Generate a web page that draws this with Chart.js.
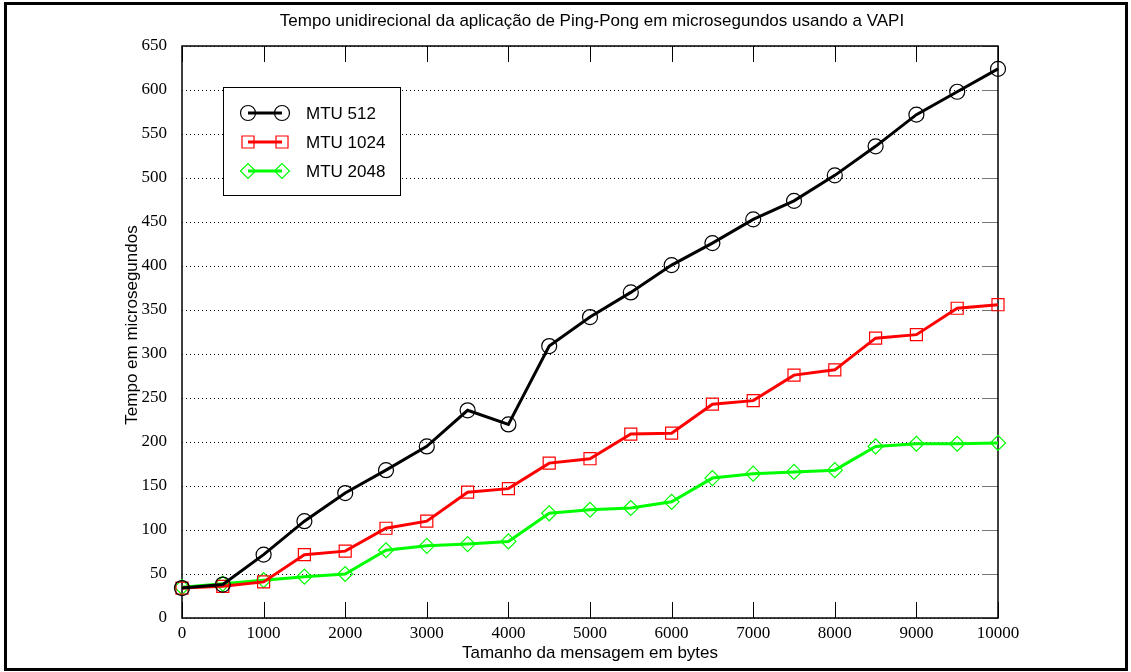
<!DOCTYPE html>
<html>
<head>
<meta charset="UTF-8">
<title>Tempo unidirecional Ping-Pong VAPI</title>
<script src="https://cdn.jsdelivr.net/npm/chart.js"></script>
<style>
    html, body { margin: 0; padding: 0; background: #fff; }
    #wrap { width: 1131px; height: 672px; }
</style>
</head>
<body>
<div id="wrap"><canvas id="chart" width="1131" height="672"></canvas></div>
<script>
    // message sizes (bytes)
    const tamanhos = [0, 500, 1000, 1500, 2000, 2500, 3000, 3500, 4000, 4500, 5000,
                      5500, 6000, 6500, 7000, 7500, 8000, 8500, 9000, 9500, 10000];

    // one-way time in microseconds
    const mtu512  = [34, 38, 72, 110, 142, 168, 195, 236, 220, 309, 342,
                     370, 401, 426, 453, 474, 503, 536, 572, 598, 624];
    const mtu1024 = [34, 36, 41, 72, 76, 102, 110, 143, 147, 176, 181,
                     209, 210, 243, 247, 276, 282, 318, 322, 352, 356];
    const mtu2048 = [35, 39, 43, 47, 50, 77, 82, 84, 87, 119, 123,
                     125, 132, 159, 164, 166, 168, 195, 198, 198, 199];

    const serieNomes = ['MTU 512', 'MTU 1024', 'MTU 2048'];
    const xTicks = [0, 1000, 2000, 3000, 4000, 5000, 6000, 7000, 8000, 9000, 10000];
    const yTicks = [0, 50, 100, 150, 200, 250, 300, 350, 400, 450, 500, 550, 600, 650];

    const titulo = 'Tempo unidirecional da aplicação de Ping-Pong em microsegundos usando a VAPI';
    const xTitulo = 'Tamanho da mensagem em bytes';
    const yTitulo = 'Tempo em microsegundos';

    const SANS = '"Liberation Sans", Arial, sans-serif';
    const SERIF = '"Liberation Serif", "Times New Roman", serif';

    function pontos(vals) {
        return tamanhos.map((x, i) => ({ x: x, y: vals[i] }));
    }

    function serie(nome, vals, cor, estilo, raio) {
        return {
            label: nome,
            data: pontos(vals),
            borderColor: cor,
            backgroundColor: 'rgba(0,0,0,0)',
            borderWidth: 3,
            tension: 0,
            pointStyle: estilo,
            pointRadius: raio,
            pointHoverRadius: raio,
            pointBorderColor: cor,
            pointBackgroundColor: 'rgba(0,0,0,0)',
            pointBorderWidth: 1.2,
            clip: false
        };
    }

    // frame, dotted grid, ticks, titles and the boxed legend, MATLAB style
    const molduraPlugin = {
        id: 'moldura',
        beforeDatasetsDraw(chart) {
            const ctx = chart.ctx;
            const a = chart.chartArea;
            const xs = chart.scales.x;
            const ys = chart.scales.y;
            ctx.save();
            // dotted horizontal grid
            ctx.strokeStyle = '#000';
            ctx.lineWidth = 1;
            ctx.setLineDash([1, 3]);
            yTicks.forEach(v => {
                const py = Math.round(ys.getPixelForValue(v)) + 0.5;
                ctx.beginPath();
                ctx.moveTo(a.left, py); ctx.lineTo(a.right, py);
                ctx.stroke();
            });
            ctx.setLineDash([]);
            // inward x ticks, top and bottom
            xTicks.forEach(v => {
                const px = Math.round(xs.getPixelForValue(v)) + 0.5;
                ctx.beginPath();
                ctx.moveTo(px, a.bottom); ctx.lineTo(px, a.bottom - 16);
                ctx.moveTo(px, a.top); ctx.lineTo(px, a.top + 16);
                ctx.stroke();
            });
            // short y ticks on the right side
            ctx.strokeStyle = '#777';
            yTicks.forEach(v => {
                const py = Math.round(ys.getPixelForValue(v)) + 0.5;
                ctx.beginPath();
                ctx.moveTo(a.right, py); ctx.lineTo(a.right - 16, py);
                ctx.stroke();
            });
            ctx.strokeStyle = '#000';
            ctx.lineWidth = 1.5;
            ctx.strokeRect(a.left, a.top, a.right - a.left, a.bottom - a.top);
            ctx.restore();
        },
        afterDraw(chart) {
            const ctx = chart.ctx;
            const a = chart.chartArea;
            ctx.save();
            // outer figure border
            ctx.strokeStyle = '#000';
            ctx.lineWidth = 3;
            ctx.strokeRect(5.5, 3.5, 1121, 666);

            ctx.fillStyle = '#000';
            ctx.font = '17px ' + SANS;
            ctx.textAlign = 'center';
            ctx.textBaseline = 'middle';
            ctx.fillText(titulo, 592, 21);
            ctx.fillText(xTitulo, (a.left + a.right) / 2, 653);
            ctx.translate(132, 325);
            ctx.rotate(-Math.PI / 2);
            ctx.fillText(yTitulo, 0, 0);
            ctx.restore();

            // legend box
            ctx.save();
            ctx.fillStyle = '#fff';
            ctx.fillRect(223, 87, 177, 108);
            ctx.strokeStyle = '#000';
            ctx.lineWidth = 1;
            ctx.strokeRect(223.5, 87.5, 177, 108);
            const linhasY = [113, 142, 171];
            chart.data.datasets.forEach((ds, i) => {
                const y = linhasY[i];
                ctx.strokeStyle = ds.borderColor;
                ctx.lineWidth = 3;
                ctx.beginPath();
                ctx.moveTo(248, y); ctx.lineTo(282, y);
                ctx.stroke();
                [248, 282].forEach(px => {
                    ctx.fillStyle = 'rgba(0,0,0,0)';
                    ctx.strokeStyle = ds.pointBorderColor;
                    ctx.lineWidth = ds.pointBorderWidth;
                    Chart.helpers.drawPoint(ctx, {
                        pointStyle: ds.pointStyle,
                        radius: ds.pointRadius,
                        rotation: 0,
                        borderWidth: ds.pointBorderWidth
                    }, px, y);
                });
                ctx.fillStyle = '#000';
                ctx.font = '17px ' + SANS;
                ctx.textAlign = 'left';
                ctx.textBaseline = 'middle';
                ctx.fillText(serieNomes[i], 306, y + 1);
            });
            ctx.restore();
        }
    };

    new Chart(document.getElementById('chart'), {
        type: 'line',
        data: {
            datasets: [
                serie(serieNomes[0], mtu512, '#000000', 'circle', 7.5),
                serie(serieNomes[1], mtu1024, '#ff0000', 'rect', 8.5),
                serie(serieNomes[2], mtu2048, '#00ff00', 'rectRot', 7.5)
            ]
        },
        options: {
            responsive: false,
            animation: false,
            layout: { padding: { left: 0, top: 46, right: 133, bottom: 0 } },
            plugins: {
                legend: { display: false },
                title: { display: false },
                tooltip: { enabled: false }
            },
            scales: {
                x: {
                    type: 'linear',
                    min: 0,
                    max: 10000,
                    afterFit(scale) { scale.height = 54; },
                    afterBuildTicks(scale) { scale.ticks = xTicks.map(v => ({ value: v })); },
                    grid: { display: false },
                    border: { display: false },
                    ticks: {
                        color: '#000',
                        padding: -3,
                        maxRotation: 0,
                        autoSkip: false,
                        font: { family: SERIF, size: 17 },
                        callback: v => String(v)
                    }
                },
                y: {
                    type: 'linear',
                    min: 0,
                    max: 650,
                    afterFit(scale) { scale.width = 182; },
                    afterBuildTicks(scale) { scale.ticks = yTicks.map(v => ({ value: v })); },
                    grid: { display: false },
                    border: { display: false },
                    ticks: {
                        color: '#000',
                        padding: 7,
                        autoSkip: false,
                        font: { family: SERIF, size: 17 },
                        callback: v => String(v)
                    }
                }
            }
        },
        plugins: [molduraPlugin]
    });
</script>
</body>
</html>
